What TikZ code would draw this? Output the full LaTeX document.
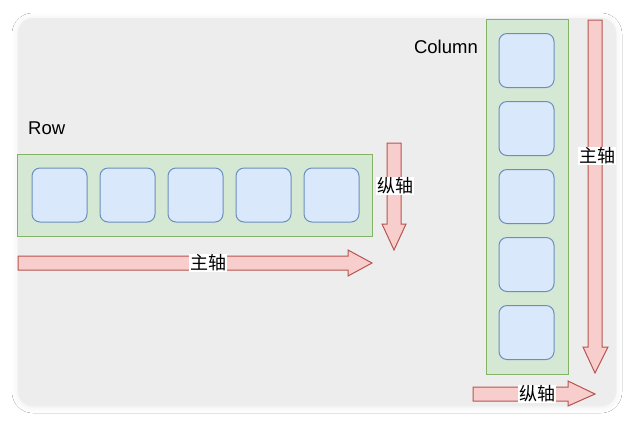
\documentclass[tikz,border=0pt]{standalone}
\usepackage{fontspec}
\setmainfont{Liberation Sans}
\newfontfamily\cjk{Noto Sans CJK SC}
\usetikzlibrary{shadows.blur}
\definecolor{bgGray}{HTML}{EDEDED}
\definecolor{boxFill}{HTML}{D5E8D4}
\definecolor{boxLine}{HTML}{82B366}
\definecolor{itemFill}{HTML}{DAE8FC}
\definecolor{itemLine}{HTML}{6C8EBF}
\definecolor{axisFill}{HTML}{F8CECC}
\definecolor{axisLine}{HTML}{B85450}
\tikzset{
  container/.style={draw=boxLine,fill=boxFill,line width=1bp,inner sep=0pt},
  item/.style={draw=itemLine,fill=itemFill,line width=1bp,rounded corners=8bp,
    minimum width=55bp,minimum height=54bp,inner sep=0pt},
  axis/.style={draw=axisLine,fill=axisFill,line width=1bp,line join=miter},
  axislabel/.style={fill=white,inner sep=1bp,font=\cjk\fontsize{18bp}{20bp}\selectfont},
  title/.style={inner sep=0pt,font=\fontsize{18.5bp}{22bp}\selectfont}
}
\begin{document}
\begin{tikzpicture}[x=1bp,y=-1bp]
\useasboundingbox (0,0) rectangle (634,424);
\fill[white] (0,0) rectangle (634,424);
\fill[bgGray,rounded corners=15bp,
  blur shadow={shadow xshift=0bp,shadow yshift=-1bp,shadow blur radius=6bp,shadow opacity=8}]
  (18,18) rectangle (616,406);
% row
\node[title,anchor=west] (rowtitle) at (28,128) {Row};
\node[container,minimum width=354bp,minimum height=82bp] (row) at (195,195) {};
\foreach \i in {0,...,4}
  \node[item] (r\i) at ({59.5+68*\i},195) {};
\draw[axis] (18,256) -- (348,256) -- (348,250) -- (372,263) -- (348,276) -- (348,270) -- (18,270) -- cycle;
\node[axislabel] (rowmain) at (208,263) {主轴};
\draw[axis] (387,143) -- (401,143) -- (401,224) -- (406,224) -- (394,250) -- (382,224) -- (387,224) -- cycle;
\node[axislabel] (rowcross) at (395,186) {纵轴};
% column
\node[title,anchor=east] (coltitle) at (478,47) {Column};
\node[container,minimum width=82bp,minimum height=355bp] (col) at (527,196.5) {};
\foreach \i in {0,...,4}
  \node[item] (c\i) at (526.5,{60.5+68*\i}) {};
\draw[axis] (588,20) -- (602,20) -- (602,347) -- (608,347) -- (595,373) -- (583,347) -- (588,347) -- cycle;
\node[axislabel] (colmain) at (597,156) {主轴};
\draw[axis] (473,387) -- (568,387) -- (568,381) -- (595,394) -- (568,406) -- (568,401) -- (473,401) -- cycle;
\node[axislabel] (colcross) at (537,394) {纵轴};
\end{tikzpicture}
\end{document}
